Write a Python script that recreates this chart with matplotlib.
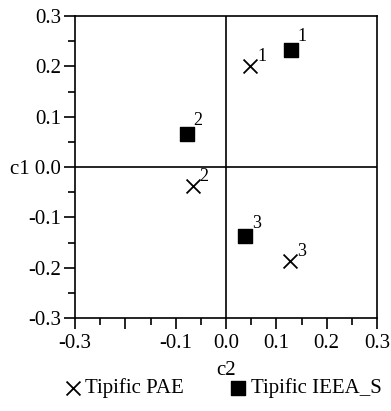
import matplotlib

matplotlib.use("Agg")
import matplotlib.pyplot as plt
from matplotlib.ticker import MultipleLocator

plt.rcParams["font.family"] = ["Liberation Serif", "DejaVu Serif"]

# Data
labels = ["1", "2", "3"]
pae_c2 = [0.048, -0.066, 0.127]
pae_c1 = [0.200, -0.038, -0.187]
ieea_c2 = [0.129, -0.078, 0.038]
ieea_c1 = [0.233, 0.066, -0.137]

fig = plt.figure(figsize=(3.91, 4.11), dpi=100)
ax = fig.add_axes([75 / 391, 1 - 318 / 411, 302 / 391, 302 / 411])

ax.axhline(0, color="black", linewidth=1.2, zorder=1)
ax.axvline(0, color="black", linewidth=1.2, zorder=1)

ax.scatter(pae_c2, pae_c1, marker="x", s=100, color="black", linewidths=1.3,
           label="Tipific PAE", zorder=3)
ax.scatter(ieea_c2, ieea_c1, marker="s", s=110, color="black",
           label="Tipific IEEA_S", zorder=3)

for x, y, t in zip(pae_c2, pae_c1, labels):
    ax.annotate(t, (x, y), xytext=(5, 4), textcoords="offset points", fontsize=13)
for x, y, t in zip(ieea_c2, ieea_c1, labels):
    ax.annotate(t, (x, y), xytext=(5, 6), textcoords="offset points", fontsize=13)

ax.set_xlim(-0.3, 0.3)
ax.set_ylim(-0.3, 0.3)
ax.xaxis.set_minor_locator(MultipleLocator(0.05))
ax.yaxis.set_minor_locator(MultipleLocator(0.05))
ax.set_xticks([-0.3, -0.2, -0.1, 0.0, 0.1, 0.2, 0.3])
ax.set_xticklabels(["-0.3", "", "-0.1", "0.0", "0.1", "0.2", "0.3"])
ax.set_yticks([-0.3, -0.2, -0.1, 0.0, 0.1, 0.2, 0.3])
ax.set_yticklabels(["-0.3", "-0.2", "-0.1", "c1 0.0", "0.1", "0.2", "0.3"])
ax.tick_params(which="major", direction="out", length=8, width=1.2, labelsize=15)
ax.tick_params(which="minor", direction="out", length=5, width=1.2)
ax.tick_params(axis="y", pad=2)
for s in ax.spines.values():
    s.set_linewidth(1.2)

ax.set_xlabel("c2", fontsize=15, labelpad=6)

fig.legend(loc="lower center", bbox_to_anchor=(0.565, -0.015), ncol=2, frameon=False,
           fontsize=15, handletextpad=0.0, columnspacing=2.0, markerscale=1.0,
           handlelength=1.2)

fig.savefig("out.png", dpi=100)
